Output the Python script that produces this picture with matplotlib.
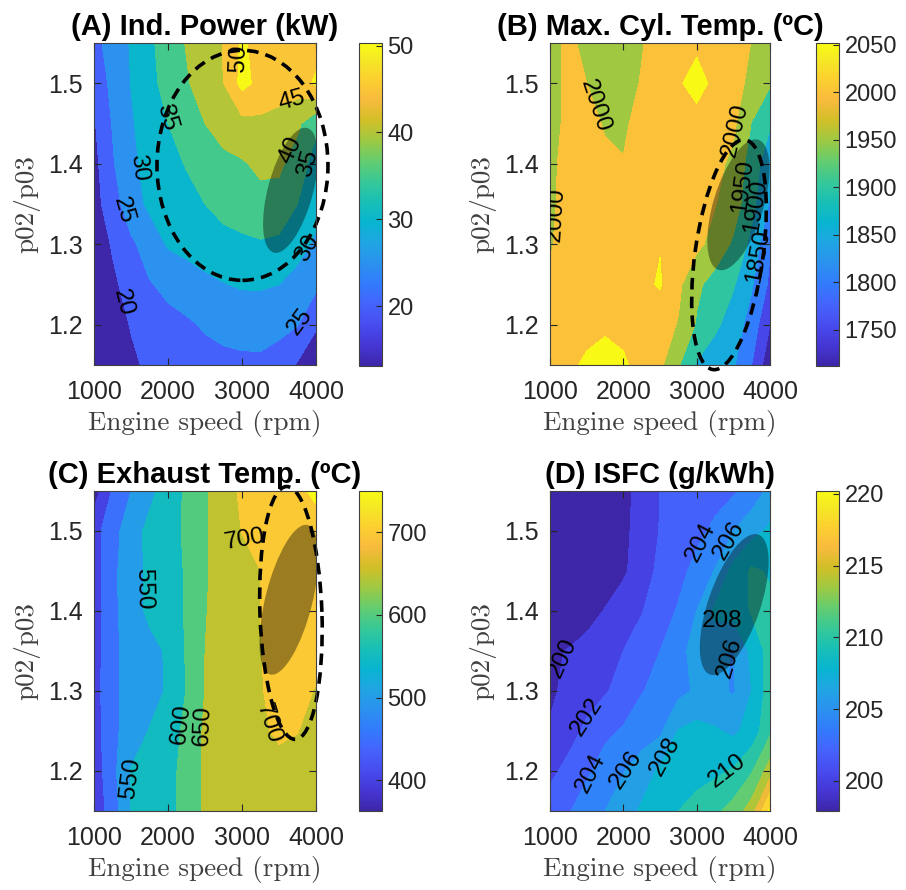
import numpy as np
import matplotlib
matplotlib.use('Agg')
import matplotlib.pyplot as plt
from matplotlib.colors import LinearSegmentedColormap, Normalize
from matplotlib.cm import ScalarMappable
from matplotlib.patches import Ellipse
from matplotlib.transforms import ScaledTranslation

# operating grid: engine speed (columns) and p02/p03 (rows, top to bottom)
rpm = [1000, 1250, 1500, 1750, 2000, 2250, 2500, 2750, 3000, 3250, 3500, 3750, 4000]
pr = [1.55, 1.50, 1.45, 1.40, 1.35, 1.30, 1.25, 1.20, 1.15]

# (A) indicated power, kW
power = [
    [23.5, 27.0, 30.4, 34.1, 37.3, 40.3, 42.8, 45.2, 50.8, 48.0, 47.0, 47.5, 48.0],
    [21.5, 26.3, 30.1, 33.5, 36.8, 39.5, 42.3, 45.0, 51.5, 48.5, 47.0, 47.5, 50.8],
    [19.5, 25.3, 29.5, 32.2, 35.0, 37.5, 40.0, 42.0, 43.5, 44.0, 43.5, 41.0, 36.0],
    [18.5, 24.5, 29.0, 31.5, 33.5, 35.3, 37.0, 38.8, 39.5, 41.0, 41.0, 37.5, 33.0],
    [18.0, 23.0, 27.5, 31.0, 32.5, 33.5, 35.0, 36.5, 37.5, 38.5, 38.0, 35.0, 32.0],
    [16.5, 20.5, 24.2, 27.0, 30.5, 31.5, 32.5, 33.5, 34.0, 34.5, 34.0, 32.0, 29.0],
    [15.5, 19.0, 22.0, 24.7, 26.0, 27.5, 28.8, 29.8, 30.5, 30.5, 30.0, 28.0, 26.0],
    [14.5, 17.5, 20.3, 22.0, 23.8, 24.3, 25.5, 26.3, 26.8, 27.0, 26.5, 25.2, 20.5],
    [13.5, 16.5, 19.0, 21.0, 22.0, 22.8, 23.3, 23.8, 24.0, 24.0, 22.5, 19.5, 17.0],
]

# (B) max cylinder temperature, C
tmax = [
    [1985, 2010, 1988, 1978, 1980, 1997, 2020, 2035, 2042, 2030, 2015, 1999, 1985],
    [1985, 2008, 2000, 1985, 1983, 2003, 2025, 2045, 2065, 2040, 2015, 1990, 1955],
    [1985, 2010, 2018, 1995, 1993, 2015, 2030, 2035, 2035, 2030, 2010, 1948, 1905],
    [1990, 2015, 2020, 2010, 2002, 2015, 2025, 2025, 2025, 2012, 1990, 1925, 1870],
    [1990, 2020, 2025, 2025, 2025, 2025, 2025, 2025, 2022, 2002, 1975, 1915, 1845],
    [1996, 2020, 2025, 2025, 2025, 2035, 2048, 2025, 2012, 1982, 1942, 1885, 1805],
    [2005, 2022, 2025, 2025, 2025, 2040, 2054, 2010, 1960, 1930, 1905, 1855, 1790],
    [2010, 2025, 2035, 2045, 2035, 2025, 2020, 1997, 1945, 1910, 1875, 1830, 1750],
    [2020, 2040, 2058, 2062, 2058, 2030, 2010, 1955, 1895, 1870, 1855, 1800, 1715],
]

# (C) exhaust temperature, C
texh = [
    [375, 455, 500, 538, 573, 608, 643, 680, 708, 722, 730, 745, 755],
    [432, 480, 530, 562, 583, 607, 644, 675, 701, 715, 725, 732, 740],
    [425, 488, 530, 560, 582, 604, 646, 665, 685, 700, 715, 722, 718],
    [425, 488, 528, 560, 580, 604, 648, 665, 682, 700, 715, 720, 715],
    [425, 490, 515, 535, 556, 605, 650, 665, 682, 699, 712, 718, 712],
    [427, 490, 515, 533, 555, 602, 651, 665, 682, 698, 710, 710, 698],
    [425, 488, 522, 552, 580, 610, 658, 670, 683, 695, 705, 701, 685],
    [420, 485, 553, 567, 588, 613, 658, 668, 678, 685, 690, 688, 680],
    [415, 475, 552, 565, 585, 616, 658, 668, 675, 680, 683, 683, 680],
]

# (D) ISFC, g/kWh
isfc = [
    [198.0, 198.2, 198.5, 198.9, 199.5, 200.6, 202.0, 202.6, 203.0, 203.3, 203.7, 204.8, 206.5],
    [198.0, 198.2, 198.5, 198.9, 199.6, 200.7, 202.1, 202.8, 203.5, 204.4, 206.0, 207.3, 208.4],
    [198.0, 198.2, 198.5, 198.9, 199.7, 201.0, 202.5, 203.4, 204.6, 206.1, 208.6, 210.3, 209.8],
    [198.0, 198.5, 199.2, 200.1, 201.0, 201.9, 203.0, 204.2, 206.0, 208.4, 208.8, 210.2, 210.4],
    [199.7, 200.1, 200.7, 201.3, 202.0, 203.0, 204.0, 205.5, 206.6, 206.8, 205.8, 208.5, 210.8],
    [199.6, 200.6, 201.2, 201.8, 202.8, 203.9, 204.6, 205.4, 206.3, 206.5, 205.8, 208.0, 211.0],
    [200.2, 201.2, 202.4, 203.6, 204.2, 205.0, 205.6, 208.1, 208.6, 208.2, 207.6, 208.8, 211.6],
    [201.5, 202.6, 203.7, 204.8, 205.9, 207.0, 208.3, 208.8, 209.2, 209.6, 210.2, 211.8, 215.0],
    [203.0, 203.8, 205.0, 206.0, 207.0, 208.3, 209.2, 210.0, 210.8, 211.6, 212.8, 215.0, 220.5],
]

# contour levels and colour limits of every panel
power_levels = [20, 25, 30, 35, 40, 45, 50]
tmax_levels = [1750, 1800, 1850, 1900, 1950, 2000, 2050]
texh_levels = [400, 450, 500, 550, 600, 650, 700, 750]
isfc_levels = [200, 202, 204, 206, 208, 210, 212, 214, 216, 218, 220]
power_clim = (13.1, 50.3)
tmax_clim = (1712, 2052)
texh_clim = (363, 750)
isfc_clim = (197.9, 220.2)
power_cticks = [20, 30, 40, 50]
tmax_cticks = [1750, 1800, 1850, 1900, 1950, 2000, 2050]
texh_cticks = [400, 500, 600, 700]
isfc_cticks = [200, 205, 210, 215, 220]

# where the contour labels sit (level, rpm, p02/p03[, fixed rotation])
power_labels = [(50, 2986, 1.531), (45, 3608, 1.492), (40, 3662, 1.417), (35, 3878, 1.401),
                (35, 1973, 1.457), (30, 1716, 1.396), (25, 1405, 1.343), (20, 1378, 1.227),
                (30, 3838, 1.297), (25, 3743, 1.206)]
tmax_labels = [(2000, 1637, 1.473), (2000, 1136, 1.336), (2000, 3478, 1.442),
               (1950, 3683, 1.372), (1900, 3796, 1.347), (1850, 3796, 1.285)]
texh_labels = [(550, 1563, 1.427), (550, 1473, 1.191), (600, 2216, 1.258),
               (650, 2351, 1.258), (700, 3071, 1.491, 10), (700, 3522, 1.262)]
isfc_labels = [(200, 1227, 1.341), (202, 1523, 1.266), (204, 1591, 1.195), (206, 2046, 1.2),
               (208, 2546, 1.22), (210, 3410, 1.2), (204, 3069, 1.485), (206, 3478, 1.487),
               (208, 3341, 1.387, 0), (206, 3478, 1.341)]

# ellipses: centre rpm, centre p02/p03, width px, height px, angle deg
power_shade = (3655, 1.367, 129, 45, 75)
power_dash = (3006, 1.398, 171, 230, 0)
tmax_shade = (3569, 1.349, 136, 50, 73)
tmax_dash = (3441, 1.287, 232, 68, 82)
texh_shade = (3634, 1.414, 154, 47, 76)
texh_dash = (3661, 1.3975, 253, 62, 92)
isfc_shade = (3512, 1.408, 148, 52, 71)

# matlab parula, every 4th entry of the 64 colour table
parula_pts = [
    (0.000, (0.2422, 0.1504, 0.6603)), (0.063, (0.2706, 0.2147, 0.8364)),
    (0.127, (0.2813, 0.3006, 0.9414)), (0.190, (0.2699, 0.3892, 0.9906)),
    (0.254, (0.1963, 0.4847, 0.9892)), (0.317, (0.1687, 0.5703, 0.9359)),
    (0.381, (0.1248, 0.6459, 0.8883)), (0.444, (0.0297, 0.7082, 0.8163)),
    (0.508, (0.0964, 0.7500, 0.7120)), (0.571, (0.2161, 0.7843, 0.5923)),
    (0.635, (0.3909, 0.8029, 0.4354)), (0.698, (0.6174, 0.7876, 0.2612)),
    (0.762, (0.8203, 0.7498, 0.1535)), (0.825, (0.9728, 0.7298, 0.2394)),
    (0.889, (0.9892, 0.8136, 0.1885)), (0.952, (0.9597, 0.9135, 0.1423)),
    (1.000, (0.9769, 0.9839, 0.0805)),
]
parula = LinearSegmentedColormap.from_list('parula', parula_pts)

DARK = '#262626'
SANS = 'Liberation Sans'


def add_ellipse(ax, spec, **kw):
    cx, cy, w, h, ang = spec
    #size in screen pixels, centre in data units
    tr = ax.figure.dpi_scale_trans + ScaledTranslation(cx, cy, ax.transData)
    e = Ellipse((0, 0), w / 100.0, h / 100.0, angle=ang, transform=tr, **kw)
    ax.add_artist(e)


def draw_panel(ax, cax, z, title, levels, clim, cticks, labels, shade, dash=None):
    Z = np.array(z, dtype=float)[::-1]
    y = pr[::-1]
    vmin, vmax = clim
    #matlab colours each band with its lower level
    bounds = [-1e9] + levels + [1e9]
    cols = [parula(0.0)] + [parula((lv - vmin) / (vmax - vmin)) for lv in levels]
    ax.contourf(rpm, y, Z, levels=bounds, colors=cols, zorder=0)
    ax.set_xlim(1000, 4000)
    ax.set_ylim(1.15, 1.55)

    add_ellipse(ax, shade, facecolor='k', edgecolor='none', alpha=0.38, zorder=2)
    if dash is not None:
        add_ellipse(ax, dash, fill=False, edgecolor='k', linewidth=2.6,
                    linestyle=(0, (3.2, 2.0)), clip_on=False, zorder=2.5)

    # invisible line per label, label placed by hand on it
    for lab in labels:
        lv, x0, y0 = lab[:3]
        cs = ax.contour(rpm, y, Z, levels=[lv], colors='none')
        txts = ax.clabel(cs, manual=[(x0, y0)], inline=False, fontsize=17.5, colors='k', fmt='%d')
        for t in txts:
            t.set_family(SANS)
            t.set_zorder(4)
            if len(lab) > 3:
                t.set_rotation(lab[3])

    ax.set_xticks([1000, 2000, 3000, 4000])
    ax.set_yticks([1.2, 1.3, 1.4, 1.5])
    ax.tick_params(direction='in', length=5, width=0.8, top=True, right=True,
                   labelsize=18, colors=DARK)
    ax.tick_params(axis='x', pad=11)
    ax.tick_params(axis='y', pad=8)
    for lab in ax.get_xticklabels() + ax.get_yticklabels():
        lab.set_family(SANS)
    for sp in ax.spines.values():
        sp.set_color('#404040')
        sp.set_linewidth(0.8)

    ax.set_title(title, fontsize=21, fontweight='bold', family=SANS, pad=6)
    ax.set_xlabel('Engine speed (rpm)', family='cmr10', fontsize=19.5, color='#404040', labelpad=4)
    ax.set_ylabel('p02/p03', family='cmr10', fontsize=19.5, color='#404040', labelpad=6)

    sm = ScalarMappable(norm=Normalize(vmin, vmax), cmap=parula)
    cb = ax.figure.colorbar(sm, cax=cax, ticks=cticks)
    cb.outline.set_linewidth(0.8)
    cb.outline.set_edgecolor('#404040')
    cax.tick_params(direction='in', length=4, width=0.8, labelsize=17, colors=DARK, pad=4)
    for lab in cax.get_yticklabels():
        lab.set_family(SANS)


fig = plt.figure(figsize=(9.06, 8.9), dpi=100)

ax_a = fig.add_axes([0.1038, 0.5899, 0.2450, 0.3618])
ax_b = fig.add_axes([0.6071, 0.5899, 0.2428, 0.3618])
ax_c = fig.add_axes([0.1038, 0.0888, 0.2450, 0.3596])
ax_d = fig.add_axes([0.6071, 0.0888, 0.2428, 0.3596])
cax_a = fig.add_axes([0.3962, 0.5888, 0.0254, 0.3629])
cax_b = fig.add_axes([0.9007, 0.5888, 0.0254, 0.3629])
cax_c = fig.add_axes([0.3962, 0.0888, 0.0254, 0.3596])
cax_d = fig.add_axes([0.9007, 0.0888, 0.0254, 0.3596])

draw_panel(ax_a, cax_a, power, '(A) Ind. Power (kW)', power_levels, power_clim,
           power_cticks, power_labels, power_shade, power_dash)
draw_panel(ax_b, cax_b, tmax, '(B) Max. Cyl. Temp. (ºC)', tmax_levels, tmax_clim,
           tmax_cticks, tmax_labels, tmax_shade, tmax_dash)
draw_panel(ax_c, cax_c, texh, '(C) Exhaust Temp. (ºC)', texh_levels, texh_clim,
           texh_cticks, texh_labels, texh_shade, texh_dash)
draw_panel(ax_d, cax_d, isfc, '(D) ISFC (g/kWh)', isfc_levels, isfc_clim,
           isfc_cticks, isfc_labels, isfc_shade)

fig.savefig('out.png', dpi=100)
